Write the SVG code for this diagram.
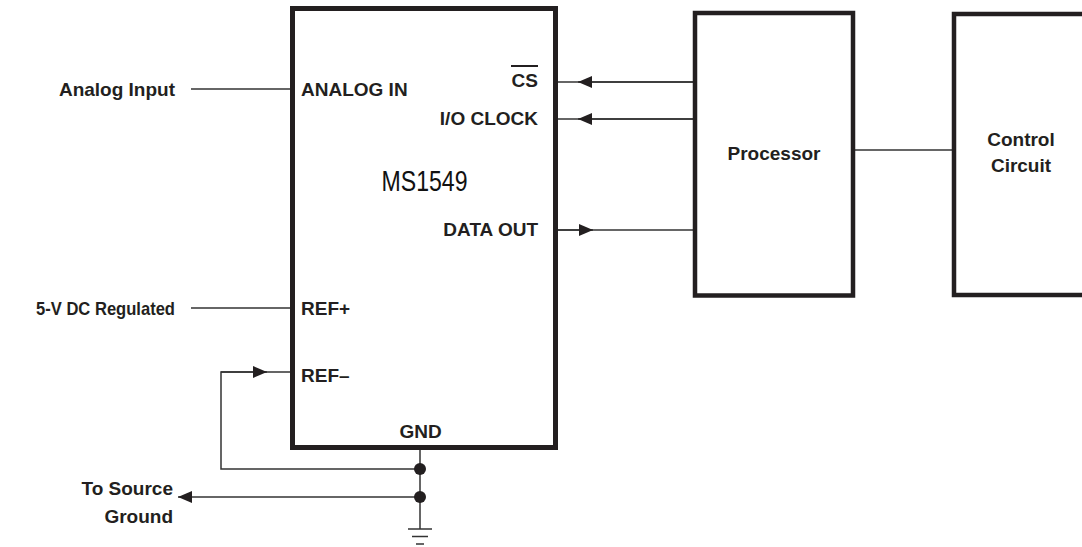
<svg xmlns="http://www.w3.org/2000/svg" width="1082" height="547" viewBox="0 0 1082 547">
<defs>
<style>
.box{fill:#fff;stroke:#231f20;stroke-width:5}
.w{fill:none;stroke:#333;stroke-width:1.5}
.t{font-family:"Liberation Sans",Arial,sans-serif;font-weight:bold;font-size:19px;fill:#231f20}
.ah{fill:#231f20}
</style>
<marker id="arr" viewBox="0 0 14 12" refX="14" refY="6" markerWidth="14" markerHeight="12" markerUnits="userSpaceOnUse" orient="auto">
<path d="M0,0 L14,6 L0,12 Z" class="ah"/>
</marker>
</defs>
<rect width="1082" height="547" fill="#fff"/>
<g id="connectors">
<line class="w" x1="191" y1="89" x2="292" y2="89"/>
<line class="w" x1="191" y1="308" x2="292" y2="308"/>
<line class="w" x1="556" y1="82" x2="695" y2="82"/>
<line class="w" x1="695" y1="82" x2="578" y2="82" marker-end="url(#arr)"/>
<line class="w" x1="556" y1="119" x2="695" y2="119"/>
<line class="w" x1="695" y1="119" x2="578" y2="119" marker-end="url(#arr)"/>
<line class="w" x1="556" y1="230" x2="695" y2="230"/>
<line class="w" x1="556" y1="230" x2="593" y2="230" marker-end="url(#arr)"/>
<line class="w" x1="853" y1="150" x2="954" y2="150"/>
<polyline class="w" points="420,469 221,469 221,372 292,372"/>
<line class="w" x1="221" y1="372" x2="267" y2="372" marker-end="url(#arr)"/>
<line class="w" x1="420" y1="448" x2="420" y2="529"/>
<line class="w" x1="420" y1="497" x2="178" y2="497" marker-end="url(#arr)"/>
<circle cx="420" cy="469" r="6" class="ah"/>
<circle cx="420" cy="497" r="6" class="ah"/>
<line class="w" x1="408" y1="529" x2="432" y2="529"/>
<line class="w" x1="412" y1="536.5" x2="428" y2="536.5"/>
<line class="w" x1="416" y1="544" x2="424" y2="544"/>
</g>
<g id="ms1549">
<rect class="box" x="292.5" y="8.5" width="263" height="439"/>
<text class="t" x="301" y="96">ANALOG IN</text>
<text class="t" x="538" y="87" text-anchor="end">CS</text>
<line x1="511" y1="66" x2="538" y2="66" stroke="#231f20" stroke-width="2"/>
<text class="t" x="538" y="125" text-anchor="end">I/O CLOCK</text>
<text x="381.5" y="191" font-family="'Liberation Sans',Arial,sans-serif" font-size="29" fill="#111" textLength="86" lengthAdjust="spacingAndGlyphs">MS1549</text>
<text class="t" x="538" y="236" text-anchor="end">DATA OUT</text>
<text class="t" x="301" y="315">REF+</text>
<text class="t" x="301" y="382">REF–</text>
<text class="t" x="420.5" y="438" text-anchor="middle">GND</text>
</g>
<g id="processor">
<rect class="box" x="695" y="13" width="158" height="282.5" style="stroke-width:4.5"/>
<text class="t" x="774" y="160" text-anchor="middle">Processor</text>
</g>
<g id="control">
<rect class="box" x="954" y="14" width="200" height="281" style="stroke-width:4.5"/>
<text class="t" x="1021" y="146" text-anchor="middle">Control</text>
<text class="t" x="1021" y="172" text-anchor="middle">Circuit</text>
</g>
<g id="labels">
<text class="t" x="175" y="96" text-anchor="end">Analog Input</text>
<text class="t" x="36" y="315" textLength="139" lengthAdjust="spacingAndGlyphs">5-V DC Regulated</text>
<text class="t" x="173" y="495" text-anchor="end">To Source</text>
<text class="t" x="173" y="523" text-anchor="end">Ground</text>
</g>
</svg>
